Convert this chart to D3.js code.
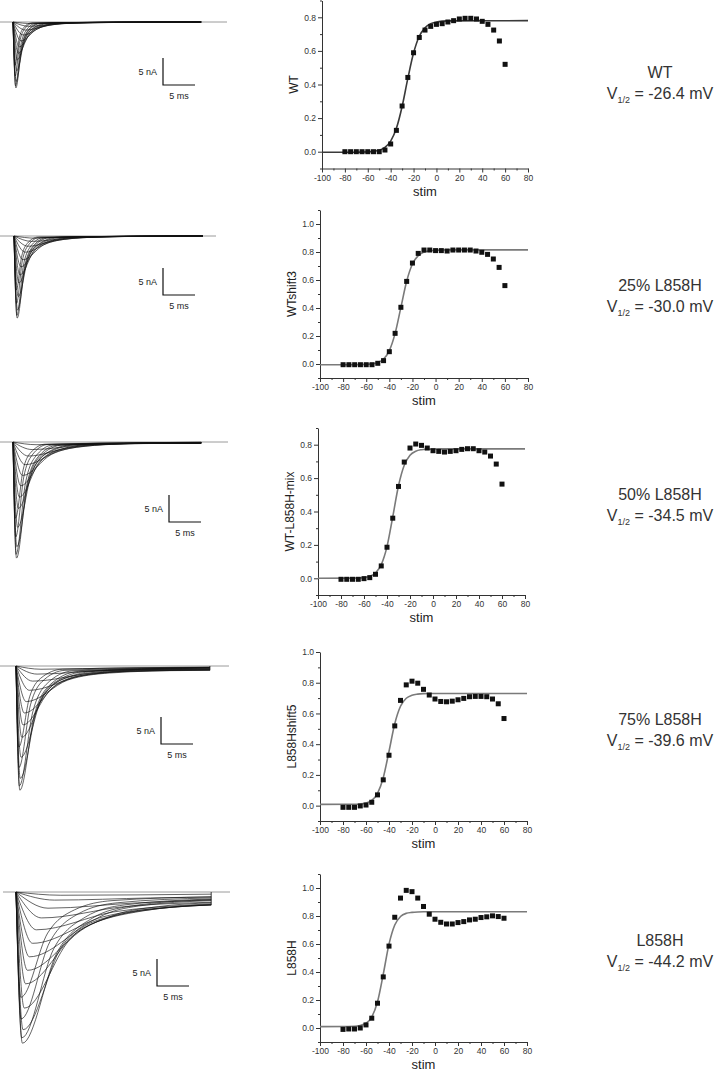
<!DOCTYPE html>
<html>
<head>
<meta charset="utf-8">
<script src="https://cdn.jsdelivr.net/npm/d3@7/dist/d3.min.js"></script>
<style>
  body { margin: 0; background: #fff; }
  svg { display: block; font-family: "Liberation Sans", Arial, sans-serif; }
</style>
</head>
<body>
<div id="chart"></div>
<script>
// ---- data ----
const stim = [-80, -75, -70, -65, -60, -55, -50, -45, -40, -35, -30, -25, -20, -15, -10,
  -5, 0, 5, 10, 15, 20, 25, 30, 35, 40, 45, 50, 55, 60];

const actWT = [0, 0, 0, 0, 0, 0, 0, 0.01, 0.046, 0.127, 0.272, 0.442, 0.589, 0.68, 0.724,
  0.746, 0.758, 0.762, 0.772, 0.78, 0.79, 0.794, 0.794, 0.79, 0.776, 0.758, 0.724, 0.659, 0.52];
const actShift3 = [-0.005, -0.005, -0.005, -0.005, -0.005, -0.005, 0.005, 0.024, 0.088, 0.219, 0.405, 0.59, 0.721, 0.79, 0.814,
  0.814, 0.81, 0.81, 0.807, 0.814, 0.814, 0.814, 0.814, 0.807, 0.798, 0.783, 0.75, 0.69, 0.56];
const actMix = [-0.006, -0.006, -0.006, -0.006, -0.002, 0.004, 0.024, 0.074, 0.186, 0.36, 0.55, 0.696, 0.78, 0.804, 0.796,
  0.78, 0.764, 0.76, 0.756, 0.76, 0.764, 0.772, 0.776, 0.776, 0.764, 0.756, 0.732, 0.684, 0.564];
const actShift5 = [-0.011, -0.011, -0.011, -0.002, 0.004, 0.022, 0.07, 0.168, 0.328, 0.519, 0.685, 0.786, 0.81, 0.797, 0.757,
  0.72, 0.694, 0.678, 0.676, 0.68, 0.689, 0.698, 0.709, 0.711, 0.711, 0.709, 0.694, 0.663, 0.567];
const actL858H = [-0.01, -0.007, -0.007, 0, 0.022, 0.07, 0.177, 0.365, 0.585, 0.791, 0.928, 0.983, 0.974, 0.928, 0.868,
  0.813, 0.777, 0.755, 0.743, 0.743, 0.753, 0.76, 0.772, 0.777, 0.789, 0.794, 0.801, 0.796, 0.784];

// Boltzmann fit curves, read at these voltages
const fitV = [-100, -70, -65, -60, -55, -50, -45, -40, -35, -30, -25, -20, -15, -10, -5, 0, 5, 10, 80];
const fitWT = [-0.003, -0.003, -0.002, -0.001, 0.002, 0.009, 0.026, 0.063, 0.139, 0.269, 0.436, 0.587, 0.687, 0.738, 0.762, 0.772, 0.777, 0.779, 0.78];
const fitShift3 = [-0.005, -0.005, -0.004, -0.003, 0.001, 0.011, 0.036, 0.096, 0.219, 0.405, 0.591, 0.714, 0.774, 0.799, 0.809, 0.813, 0.814, 0.815, 0.815];
const fitMix = [0, 0.001, 0.002, 0.004, 0.012, 0.032, 0.082, 0.19, 0.368, 0.554, 0.677, 0.737, 0.761, 0.77, 0.773, 0.774, 0.775, 0.775, 0.775];
const fitShift5 = [0.008, 0.009, 0.011, 0.017, 0.034, 0.08, 0.182, 0.353, 0.533, 0.647, 0.699, 0.719, 0.726, 0.729, 0.73, 0.73, 0.73, 0.73, 0.73];
const fitL858H = [0.01, 0.013, 0.018, 0.034, 0.078, 0.187, 0.384, 0.599, 0.736, 0.796, 0.819, 0.826, 0.829, 0.83, 0.83, 0.83, 0.83, 0.83, 0.83];

const xTicks = [-100, -80, -60, -40, -20, 0, 20, 40, 60, 80];
const xMinor = [-90, -70, -50, -30, -10, 10, 30, 50, 70];
const yTicks08 = [0, 0.2, 0.4, 0.6, 0.8];
const yTicks10 = [0, 0.2, 0.4, 0.6, 0.8, 1.0];
const yMinor09 = [-0.1, 0.1, 0.3, 0.5, 0.7, 0.9];
const yMinor11 = [-0.1, 0.1, 0.3, 0.5, 0.7, 0.9, 1.1];
const yMinor10 = [-0.1, 0.1, 0.3, 0.5, 0.7, 0.9];

const panelNames = ["WT", "WTshift3", "WT-L858H-mix", "L858Hshift5", "L858H"];
const groupNames = ["WT", "25% L858H", "50% L858H", "75% L858H", "L858H"];
const vHalf = ["-26.4", "-30.0", "-34.5", "-39.6", "-44.2"];
const yMax = [0.9, 1.1, 0.9, 1.0, 1.1];

// sodium current traces: [time ms, current nA]
const tracesWT = [
  [[0, 0], [0.45, -12.2], [1.35, -4.5], [2.25, -1.7], [4.05, -0.25], [29.4, 0]],
  [[0, 0], [0.4, -11.8], [1.2, -4.4], [2.0, -1.65], [3.6, -0.24], [29.4, 0]],
  [[0, 0], [0.5, -11.0], [1.5, -4.1], [2.5, -1.5], [4.5, -0.22], [29.4, 0]],
  [[0, 0], [0.35, -10.0], [1.05, -3.7], [1.75, -1.4], [3.15, -0.2], [29.4, 0]],
  [[0, 0], [0.6, -9.0], [1.8, -3.3], [3.0, -1.26], [5.4, -0.18], [29.4, 0]],
  [[0, 0], [0.33, -8.0], [0.98, -2.96], [1.63, -1.12], [2.93, -0.16], [29.4, 0]],
  [[0, 0], [0.7, -7.0], [2.1, -2.6], [3.5, -0.98], [6.3, -0.14], [29.4, 0]],
  [[0, 0], [0.85, -5.8], [2.55, -2.15], [4.25, -0.81], [7.65, -0.12], [29.4, 0]],
  [[0, 0], [1.0, -4.6], [3.0, -1.7], [5.0, -0.64], [9.0, -0.09], [29.4, 0]],
  [[0, 0], [1.25, -3.5], [3.75, -1.3], [6.25, -0.49], [11.25, -0.07], [29.4, 0]],
  [[0, 0], [1.6, -2.4], [4.6, -0.89], [7.6, -0.34], [13.6, -0.05], [29.4, 0]],
  [[0, 0], [2.0, -1.5], [5.6, -0.56], [9.2, -0.21], [16.4, -0.03], [29.4, 0]],
  [[0, 0], [2.5, -0.8], [7.0, -0.3], [11.5, -0.11], [20.5, -0.02], [29.4, 0]],
  [[0, 0], [3.0, -0.3], [8.5, -0.11], [14.0, -0.04], [25, -0.01], [29.4, 0]]
];
const tracesShift3 = [
  [[0, 0], [0.5, -15.2], [1.67, -5.6], [2.84, -2.1], [5.18, -0.3], [29.5, 0]],
  [[0, 0], [0.44, -14.7], [1.48, -5.4], [2.52, -2.06], [4.6, -0.29], [29.5, 0]],
  [[0, 0], [0.55, -13.7], [1.85, -5.1], [3.15, -1.9], [5.75, -0.27], [29.5, 0]],
  [[0, 0], [0.39, -12.5], [1.3, -4.6], [2.21, -1.75], [4.03, -0.25], [29.5, 0]],
  [[0, 0], [0.66, -11.2], [2.22, -4.1], [3.78, -1.57], [6.9, -0.22], [29.5, 0]],
  [[0, 0], [0.36, -10.0], [1.21, -3.7], [2.06, -1.4], [3.76, -0.2], [29.5, 0]],
  [[0, 0], [0.77, -8.7], [2.59, -3.2], [4.41, -1.22], [8.05, -0.17], [29.5, 0]],
  [[0, 0], [0.94, -7.2], [3.14, -2.66], [5.34, -1.0], [9.74, -0.14], [29.5, 0]],
  [[0, 0], [1.1, -5.7], [3.7, -2.1], [6.3, -0.8], [11.5, -0.11], [29.5, 0]],
  [[0, 0], [1.4, -4.4], [4.65, -1.63], [7.9, -0.62], [14.4, -0.09], [29.5, 0]],
  [[0, 0], [1.76, -3.0], [5.66, -1.11], [9.56, -0.42], [17.36, -0.06], [29.5, 0]],
  [[0, 0], [2.2, -1.9], [6.9, -0.7], [11.6, -0.27], [21, -0.04], [29.5, 0]],
  [[0, 0], [2.75, -1.0], [8.6, -0.37], [14.45, -0.14], [26.15, -0.02], [29.5, 0]],
  [[0, 0], [3.3, -0.4], [10.5, -0.15], [17.7, -0.06], [29.5, 0]]
];
const tracesMix = [
  [[0, 0], [0.55, -21.5], [2.15, -8.0], [3.75, -3.0], [6.95, -0.6], [29.4, -0.1]],
  [[0, 0], [0.48, -20.8], [1.93, -7.7], [3.38, -2.9], [6.28, -0.55], [29.4, -0.1]],
  [[0, 0], [0.6, -19.4], [2.4, -7.2], [4.2, -2.7], [7.8, -0.55], [29.4, -0.1]],
  [[0, 0], [0.42, -17.6], [1.68, -6.5], [2.94, -2.5], [5.46, -0.45], [29.4, -0.05]],
  [[0, 0], [0.72, -15.8], [2.88, -5.9], [5.04, -2.2], [9.36, -0.5], [29.4, -0.15]],
  [[0, 0], [0.4, -14.1], [1.57, -5.2], [2.74, -2.0], [5.08, -0.4], [29.4, -0.05]],
  [[0, 0], [0.84, -12.3], [3.34, -4.6], [5.84, -1.75], [10.84, -0.4], [29.4, -0.2]],
  [[0, 0], [1.0, -10.2], [4.06, -3.8], [7.12, -1.45], [13.24, -0.35], [29.4, -0.25]],
  [[0, 0], [1.2, -8.1], [4.8, -3.0], [8.4, -1.15], [15.6, -0.3], [29.4, -0.25]],
  [[0, 0], [1.5, -6.2], [6.0, -2.3], [10.5, -0.9], [19.5, -0.25], [29.4, -0.25]],
  [[0, 0], [1.9, -4.2], [7.3, -1.6], [12.7, -0.62], [23.5, -0.2], [29.4, -0.2]],
  [[0, 0], [2.4, -2.6], [8.9, -1.0], [15.4, -0.4], [29.4, -0.15]],
  [[0, 0], [3.0, -1.4], [11.1, -0.55], [19.2, -0.25], [29.4, -0.15]],
  [[0, 0], [3.6, -0.5], [13.5, -0.22], [23.4, -0.12], [29.4, -0.1]]
];
const tracesShift5 = [
  [[0, 0], [0.6, -23.0], [2.9, -8.9], [5.2, -3.6], [9.8, -1.0], [30.3, -0.3]],
  [[0, 0], [0.52, -22.2], [2.62, -8.5], [4.72, -3.4], [8.92, -0.9], [30.3, -0.3]],
  [[0, 0], [0.66, -20.8], [3.26, -8.0], [5.86, -3.2], [11.06, -1.0], [30.3, -0.35]],
  [[0, 0], [0.46, -18.8], [2.26, -7.2], [4.06, -2.9], [7.66, -0.8], [30.3, -0.25]],
  [[0, 0], [0.78, -16.9], [3.88, -6.5], [6.98, -2.6], [13.18, -0.9], [30.3, -0.4]],
  [[0, 0], [0.43, -15.0], [2.13, -5.7], [3.83, -2.3], [7.23, -0.6], [30.3, -0.2]],
  [[0, 0], [0.91, -13.2], [4.51, -5.1], [8.11, -2.1], [15.31, -0.9], [30.3, -0.5]],
  [[0, 0], [1.1, -10.9], [5.5, -4.2], [9.9, -1.8], [18.7, -0.8], [30.3, -0.6]],
  [[0, 0], [1.3, -8.7], [6.5, -3.4], [11.7, -1.5], [22.1, -0.8], [30.3, -0.7]],
  [[0, 0], [1.6, -6.6], [8.1, -2.6], [14.6, -1.3], [27.6, -0.75], [30.3, -0.7]],
  [[0, 0], [2.1, -4.5], [9.9, -1.9], [17.7, -1.0], [30.3, -0.8]],
  [[0, 0], [2.6, -2.8], [12.0, -1.3], [21.4, -0.85], [30.3, -0.75]],
  [[0, 0], [3.3, -1.5], [14.3, -0.8], [25.0, -0.6], [30.3, -0.55]],
  [[0, 0], [3.9, -0.6], [16.9, -0.35], [30.3, -0.3]]
];
const tracesL858H = [
  [[0, 0], [1.0, -28.0], [6.5, -11.0], [12.0, -4.8], [18.0, -2.6], [30.5, -1.4]],
  [[0, 0], [0.9, -27.0], [5.9, -10.5], [10.9, -4.6], [16.9, -2.4], [30.5, -1.3]],
  [[0, 0], [1.1, -25.5], [7.1, -10.2], [13.1, -4.6], [19.1, -2.6], [30.5, -1.6]],
  [[0, 0], [0.8, -23.5], [5.3, -9.2], [9.8, -4.0], [15.8, -2.0], [30.5, -1.1]],
  [[0, 0], [1.3, -21.5], [8.3, -9.0], [15.3, -4.3], [22.3, -2.7], [30.5, -2.0]],
  [[0, 0], [0.75, -19.5], [4.95, -7.6], [9.15, -3.3], [15.0, -1.6], [30.5, -0.9]],
  [[0, 0], [1.5, -17.0], [9.5, -7.5], [17.5, -3.8], [24.0, -2.8], [30.5, -2.3]],
  [[0, 0], [1.8, -14.5], [10.8, -6.5], [19.8, -3.5], [30.5, -2.4]],
  [[0, 0], [2.1, -12.0], [12.1, -5.5], [22.1, -3.1], [30.5, -2.4]],
  [[0, 0], [2.6, -9.5], [13.6, -4.6], [24.6, -2.8], [30.5, -2.4]],
  [[0, 0], [3.2, -7.0], [15.2, -3.7], [27.2, -2.4], [30.5, -2.2]],
  [[0, 0], [4.0, -4.8], [17.0, -2.7], [30.5, -1.9]],
  [[0, 0], [5.0, -3.0], [19.0, -2.0], [30.5, -1.5]],
  [[0, 0], [6.0, -1.5], [21.0, -1.1], [30.5, -0.9]],
  [[0, 0], [7.0, -0.6], [30.5, -0.4]]
];

const activation = [actWT, actShift3, actMix, actShift5, actL858H];
const fits = [fitWT, fitShift3, fitMix, fitShift5, fitL858H];
const traces = [tracesWT, tracesShift3, tracesMix, tracesShift5, tracesL858H];

// ---- layout (pixels) ----
const W = 722, H = 1073;
const scatterBox = [
  { x0: 322, x1: 528, y0: 0.5, y1: 168.5 },
  { x0: 320, x1: 528, y0: 210, y1: 378 },
  { x0: 318, x1: 525, y0: 428, y1: 595 },
  { x0: 320, x1: 527, y0: 652, y1: 821 },
  { x0: 320, x1: 527, y0: 874, y1: 1042 }
];
const traceBox = [
  { base: 22, onset: 13, line0: 0, line1: 227, barX: 163, barY: 85 },
  { base: 236, onset: 14, line0: 0, line1: 216, barX: 163, barY: 295 },
  { base: 442, onset: 13, line0: 0, line1: 228, barX: 169, barY: 522 },
  { base: 666, onset: 16, line0: 0, line1: 229, barX: 161, barY: 744 },
  { base: 892, onset: 16, line0: 3, line1: 230, barX: 157, barY: 986 }
];
const labelX = 660;
const labelY = [78, 291, 500, 725, 946];
const pxPerMs = 6.4, pxPerNA = 5.4;

const svg = d3.select("#chart").append("svg")
  .attr("width", W).attr("height", H);

const axisColor = "#333";

for (let i = 0; i < 5; i++) {
  // ---------- current traces ----------
  const tb = traceBox[i];
  const tx = d3.scaleLinear().domain([0, 30]).range([tb.onset, tb.onset + 30 * pxPerMs]);
  const ty = d3.scaleLinear().domain([0, -30]).range([tb.base, tb.base + 30 * pxPerNA]);
  const tg = svg.append("g").attr("class", "traces");

  tg.append("line")
    .attr("x1", tb.line0).attr("x2", tb.line1)
    .attr("y1", ty(0)).attr("y2", ty(0))
    .attr("stroke", "#9a9a9a").attr("stroke-width", 1);

  const traceLine = d3.line()
    .x(d => tx(d[0])).y(d => ty(d[1]))
    .curve(d3.curveMonotoneX);

  tg.selectAll("path.trace")
    .data(traces[i])
    .join("path")
    .attr("class", "trace")
    .attr("d", traceLine)
    .attr("fill", "none")
    .attr("stroke", "#111")
    .attr("stroke-width", 0.65);

  // end of the pulse: currents snap back to baseline
  const last = traces[i].map(t => t[t.length - 1]);
  const endT = d3.max(last, d => d[0]);
  const endMin = d3.min(last, d => d[1]);
  if (endMin < 0) {
    tg.append("line")
      .attr("x1", tx(endT)).attr("x2", tx(endT))
      .attr("y1", ty(0)).attr("y2", ty(endMin))
      .attr("stroke", "#111").attr("stroke-width", 0.8);
  }

  // scale bar 5 nA / 5 ms
  const barH = ty(-5) - ty(0);
  const barW = tx(5) - tx(0);
  tg.append("path")
    .attr("d", `M${tb.barX},${tb.barY - barH}V${tb.barY}H${tb.barX + barW}`)
    .attr("fill", "none").attr("stroke", "#111").attr("stroke-width", 1.2);
  tg.append("text")
    .attr("x", tb.barX - 6).attr("y", tb.barY - barH / 2 + 3)
    .attr("text-anchor", "end").attr("font-size", 9).attr("fill", "#222")
    .text("5 nA");
  tg.append("text")
    .attr("x", tb.barX + barW / 2).attr("y", tb.barY + 14)
    .attr("text-anchor", "middle").attr("font-size", 9).attr("fill", "#222")
    .text("5 ms");

  // ---------- activation scatter ----------
  const sb = scatterBox[i];
  const x = d3.scaleLinear().domain([-100, 80]).range([sb.x0, sb.x1]);
  const y = d3.scaleLinear().domain([-0.1, yMax[i]]).range([sb.y1, sb.y0]);
  const g = svg.append("g").attr("class", "panel");

  const majorY = yMax[i] >= 1 ? yTicks10 : yTicks08;
  const minorY = yMax[i] > 1 ? yMinor11 : (yMax[i] === 1 ? yMinor10 : yMinor09);

  const gx = g.append("g").attr("transform", `translate(0,${sb.y1})`);
  gx.call(d3.axisBottom(x).tickValues(xTicks).tickSize(4).tickSizeOuter(0)
    .tickPadding(2).tickFormat(d => String(d)));
  gx.append("g").call(d3.axisBottom(x).tickValues(xMinor).tickSize(2).tickFormat(""))
    .select(".domain").remove();

  const gy = g.append("g").attr("transform", `translate(${sb.x0},0)`);
  gy.call(d3.axisLeft(y).tickValues(majorY).tickSize(4).tickSizeOuter(0)
    .tickPadding(2).tickFormat(d => d.toFixed(1)));
  gy.append("g").call(d3.axisLeft(y).tickValues(minorY).tickSize(2).tickFormat(""))
    .select(".domain").remove();

  g.selectAll(".domain, .tick line").attr("stroke", axisColor);
  g.selectAll(".tick text").attr("font-size", 8.5).attr("fill", axisColor)
    .attr("font-family", "Liberation Sans, Arial, sans-serif");

  g.append("text")
    .attr("x", (sb.x0 + sb.x1) / 2).attr("y", sb.y1 + 27)
    .attr("text-anchor", "middle").attr("font-size", 13).attr("fill", "#222")
    .text("stim");

  g.append("text")
    .attr("transform", `translate(${sb.x0 - 24},${(sb.y0 + sb.y1) / 2}) rotate(-90)`)
    .attr("text-anchor", "middle").attr("font-size", 12).attr("fill", "#222")
    .text(panelNames[i]);

  const fitData = fitV.map((v, k) => [v, fits[i][k]]);
  g.append("path")
    .datum(fitData)
    .attr("d", d3.line().x(d => x(d[0])).y(d => y(d[1])).curve(d3.curveMonotoneX))
    .attr("fill", "none")
    .attr("stroke", i === 0 ? "#3a3a3a" : "#7a7a7a")
    .attr("stroke-width", 1.6);

  const pts = stim.map((s, k) => [s, activation[i][k]]);
  g.selectAll("rect.pt")
    .data(pts)
    .join("rect")
    .attr("class", "pt")
    .attr("x", d => x(d[0]) - 2.5).attr("y", d => y(d[1]) - 2.5)
    .attr("width", 5).attr("height", 5)
    .attr("fill", "#111");

  // ---------- group label ----------
  const lab = svg.append("text")
    .attr("x", labelX).attr("y", labelY[i])
    .attr("text-anchor", "middle").attr("font-size", 16).attr("fill", "#333");
  lab.text(groupNames[i]);

  const vt = svg.append("text")
    .attr("x", labelX).attr("y", labelY[i] + 21)
    .attr("text-anchor", "middle").attr("font-size", 16).attr("fill", "#333");
  vt.append("tspan").text("V");
  vt.append("tspan").attr("font-size", 9).attr("dy", 4).text("1/2");
  vt.append("tspan").attr("dy", -4).text(" = " + vHalf[i] + " mV");
}
</script>
</body>
</html>
